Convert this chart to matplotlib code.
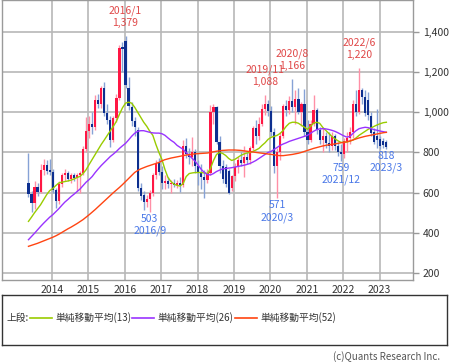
import matplotlib
matplotlib.use("Agg")
import matplotlib.pyplot as plt
import numpy as np
import pandas as pd

plt.rcParams['font.family'] = ['Liberation Sans Narrow', 'Noto Sans CJK JP', 'DejaVu Sans']

# monthly candles 2013/5 - 2023/3
months = pd.period_range('2013-05', '2023-03', freq='M')

opens = [650, 595, 550, 630, 605, 715, 735, 712,
         705, 615, 560, 645, 690, 700, 670, 690, 675, 690, 700, 815,
         905, 940, 925, 1060, 1040, 1120, 995, 960, 860, 970, 1070, 1325,
         1355, 1120, 1025, 955, 910, 625, 590, 555, 570, 600, 690, 745,
         705, 650, 660, 645, 650, 640, 650, 640, 830, 790, 775, 800,
         730, 700, 680, 665, 700, 1000, 1025, 850, 733, 725, 708, 625,
         683, 725, 760, 745, 775, 760, 820, 920, 880, 940, 1015, 1040,
         1005, 900, 730, 800, 880, 1030, 1010, 1055, 1025, 1065, 1000, 1040,
         900, 860, 940, 1010, 910, 860, 880, 845, 830, 880, 830, 800,
         790, 855, 870, 900, 1040, 1000, 1110, 1075, 1060, 980, 900, 880,
         865, 855, 850]
highs = [795, 610, 660, 650, 740, 765, 760, 765,
         720, 625, 660, 700, 720, 710, 700, 700, 700, 710, 830, 975,
         980, 1000, 1085, 1090, 1130, 1150, 1040, 980, 980, 1090, 1335, 1350,
         1379, 1175, 1050, 975, 925, 650, 610, 590, 615, 700, 760, 770,
         730, 690, 680, 665, 670, 665, 680, 860, 870, 820, 875, 815,
         760, 740, 715, 720, 1035, 1040, 1030, 880, 760, 740, 720, 690,
         745, 775, 800, 830, 800, 830, 930, 960, 975, 1040, 1088, 1060,
         1030, 920, 820, 900, 1040, 1060, 1080, 1166, 1110, 1120, 1050, 1117,
         960, 960, 1085, 1020, 925, 920, 900, 900, 900, 890, 850, 840,
         870, 900, 925, 1060, 1110, 1220, 1120, 1110, 1100, 1000, 920, 1015,
         880, 870, 860]
lows = [580, 505, 520, 585, 600, 690, 695, 690,
        600, 525, 545, 630, 660, 660, 650, 660, 610, 600, 690, 800,
        870, 890, 910, 1020, 1020, 980, 940, 825, 850, 950, 1060, 1200,
        1120, 1010, 930, 880, 610, 565, 515, 530, 503, 585, 670, 690,
        620, 620, 625, 600, 630, 625, 605, 630, 770, 740, 730, 700,
        640, 620, 575, 650, 690, 940, 840, 700, 650, 630, 592, 610,
        660, 700, 730, 680, 740, 740, 810, 840, 860, 930, 985, 980,
        880, 700, 571, 760, 870, 980, 990, 1000, 940, 990, 930, 880,
        840, 850, 930, 890, 840, 800, 820, 800, 810, 810, 780, 759,
        770, 800, 840, 870, 980, 990, 1040, 980, 960, 880, 840, 820,
        815, 820, 818]
closes = [595, 550, 630, 605, 715, 735, 710, 705,
          615, 560, 645, 690, 700, 670, 690, 675, 690, 700, 815, 905,
          940, 925, 1060, 1040, 1120, 995, 960, 860, 970, 1070, 1320, 1315,
          1135, 1030, 955, 925, 625, 585, 555, 570, 600, 690, 745, 705,
          650, 660, 645, 650, 640, 650, 640, 830, 790, 775, 800, 730,
          700, 680, 665, 700, 1000, 1025, 850, 730, 667, 642, 600, 683,
          725, 760, 745, 775, 760, 820, 920, 880, 940, 1015, 1040, 1005,
          900, 730, 800, 880, 1030, 1010, 1055, 1025, 1065, 1000, 1040, 900,
          860, 940, 1010, 910, 860, 880, 845, 830, 880, 830, 800, 790,
          855, 870, 900, 1040, 1000, 1110, 1075, 995, 985, 895, 850, 860,
          830, 835, 825]

ma13 = [457, 478, 500, 520, 540, 565, 590, 610,
        620, 635, 648, 652, 655, 658, 662, 668, 675, 681, 695, 714,
        740, 765, 790, 815, 840, 862, 885, 908, 930, 955, 990, 1022,
        1045, 1050, 1045, 1025, 1000, 975, 950, 930, 905, 885, 840, 800,
        765, 715, 675, 655, 642, 636, 633, 645, 680, 695, 698, 700,
        700, 700, 698, 695, 720, 760, 790, 800, 795, 785, 770, 760,
        765, 775, 785, 792, 797, 800, 805, 812, 820, 835, 848, 865,
        875, 880, 885, 895, 910, 930, 945, 950, 950, 945, 935, 925,
        915, 930, 945, 950, 945, 925, 910, 895, 880, 868, 858, 850,
        850, 852, 856, 862, 872, 885, 895, 905, 915, 922, 930, 937,
        943, 948, 950]
ma26 = [366, 382, 398, 415, 432, 448, 463, 478,
        490, 505, 520, 537, 553, 566, 580, 592, 605, 618, 635, 652,
        665, 680, 700, 718, 735, 750, 765, 780, 792, 805, 820, 833,
        845, 862, 880, 895, 905, 908, 908, 904, 900, 897, 896, 896,
        893, 885, 872, 860, 850, 835, 825, 815, 800, 785, 770, 755,
        735, 715, 700, 690, 688, 695, 705, 712, 718, 720, 722, 724,
        727, 730, 733, 736, 740, 745, 752, 760, 770, 780, 790, 800,
        805, 815, 825, 835, 842, 848, 855, 860, 865, 870, 875, 880,
        885, 895, 905, 913, 917, 918, 917, 914, 910, 905, 898, 890,
        882, 876, 880, 895, 908, 918, 922, 925, 923, 918, 913, 910,
        906, 903, 900]
ma52 = [333, 338, 343, 348, 354, 360, 366, 372,
        378, 385, 393, 402, 411, 420, 428, 437, 446, 456, 466, 478,
        490, 503, 516, 530, 544, 558, 572, 586, 600, 613, 626, 640,
        655, 670, 685, 700, 710, 718, 724, 730, 735, 740, 745, 750,
        758, 764, 768, 772, 775, 778, 781, 784, 787, 789, 791, 793,
        794, 795, 796, 797, 800, 803, 806, 808, 810, 811, 812, 812,
        812, 811, 810, 808, 806, 804, 802, 800, 798, 796, 794, 792,
        790, 788, 785, 784, 784, 786, 788, 790, 793, 796, 800, 805,
        810, 815, 820, 824, 828, 832, 835, 838, 840, 842, 845, 848,
        850, 853, 857, 862, 867, 872, 876, 880, 883, 886, 889, 892,
        895, 898, 900]

high_marks = ['2016-01', '2019-11', '2020-08', '2022-06']
low_marks = ['2016-09', '2020-03', '2021-12', '2023-03']
year_ticks = list(range(2014, 2024))
price_ticks = [200, 400, 600, 800, 1000, 1200, 1400]

df = pd.DataFrame({'o': opens, 'h': highs, 'l': lows, 'c': closes,
                   'ma13': ma13, 'ma26': ma26, 'ma52': ma52}, index=months)
t = np.array([p.year + (p.month - 1) / 12 + 0.02 for p in df.index])

up = df['c'] >= df['o']
body_col = np.where(up, '#ff1744', '#0d2f8f')
wick_col = np.where(up, '#ff8fa6', '#86a2d6')

fig = plt.figure(figsize=(4.52, 3.62), dpi=100)
ax = fig.add_axes([2 / 452, 82.5 / 362, 411 / 452, 279.5 / 362])

ax.vlines(t, df['l'], df['h'], colors=wick_col, lw=1.0, zorder=2)
body_h = (df['c'] - df['o']).abs().clip(lower=4)
ax.bar(t, body_h, bottom=np.minimum(df['o'], df['c']), width=0.06,
       color=body_col, lw=0, zorder=3)

ax.plot(t, df['ma13'], color='#99cc00', lw=1.0, zorder=4)
ax.plot(t, df['ma26'], color='#9933ff', lw=1.0, zorder=4)
ax.plot(t, df['ma52'], color='#ff4411', lw=1.0, zorder=4)

# high / low labels
for m in high_marks:
    p = pd.Period(m, freq='M')
    i = df.index.get_loc(p)
    ax.annotate(f"{p.year}/{p.month}\n{df['h'].iloc[i]:,}", (t[i], df['h'].iloc[i]),
                xytext=(0, 8), textcoords='offset pixels', ha='center', va='bottom',
                fontsize=7.5, color='#e04848', linespacing=1.2)
for m in low_marks:
    p = pd.Period(m, freq='M')
    i = df.index.get_loc(p)
    ax.annotate(f"{df['l'].iloc[i]:,}\n{p.year}/{p.month}", (t[i], df['l'].iloc[i]),
                xytext=(0, -2), textcoords='offset pixels', ha='center', va='top',
                fontsize=7.5, color='#4a78e8', linespacing=1.2)

ax.set_xlim(2012.626, 2023.918)
ax.set_ylim(168, 1558)
ax.set_xticks(year_ticks)
ax.set_xticklabels([str(y) for y in year_ticks])
ax.set_yticks(price_ticks)
ax.set_yticklabels([f"{v:,}" for v in price_ticks])
ax.yaxis.tick_right()
ax.tick_params(axis='x', length=0, pad=4, labelsize=7.5, colors='#333333')
ax.tick_params(axis='y', length=4, width=1, pad=3, labelsize=7.5, colors='#333333',
               color='#999999')
ax.grid(True, color='#b8b8b8', lw=1.2, zorder=0)
for s in ax.spines.values():
    s.set_color('#9a9a9a')
    s.set_linewidth(1.0)

# legend box
lg = fig.add_axes([1.7 / 452, (362 - 345) / 362, 445.3 / 452, 50 / 362])
lg.set_xlim(1.7, 447)
lg.set_ylim(345, 295)
lg.set_xticks([])
lg.set_yticks([])
for s in lg.spines.values():
    s.set_color('#333333')
    s.set_linewidth(1.0)
yl = 318
lg.text(7, yl, '上段:', fontsize=7, va='center', ha='left', color='#333333')
items = [('#99cc00', 30, '単純移動平均(13)'),
         ('#9933ff', 132, '単純移動平均(26)'),
         ('#ff4411', 235, '単純移動平均(52)')]
for col, x0, label in items:
    lg.plot([x0, x0 + 22], [yl, yl], color=col, lw=1.2)
    lg.text(x0 + 25, yl, label, fontsize=7, va='center', ha='left', color='#333333')

fig.text(440 / 452, 1 - 357 / 362, '(c)Quants Research Inc.', fontsize=7,
         ha='right', va='center', color='#555555')

fig.savefig('out.png', dpi=100)
